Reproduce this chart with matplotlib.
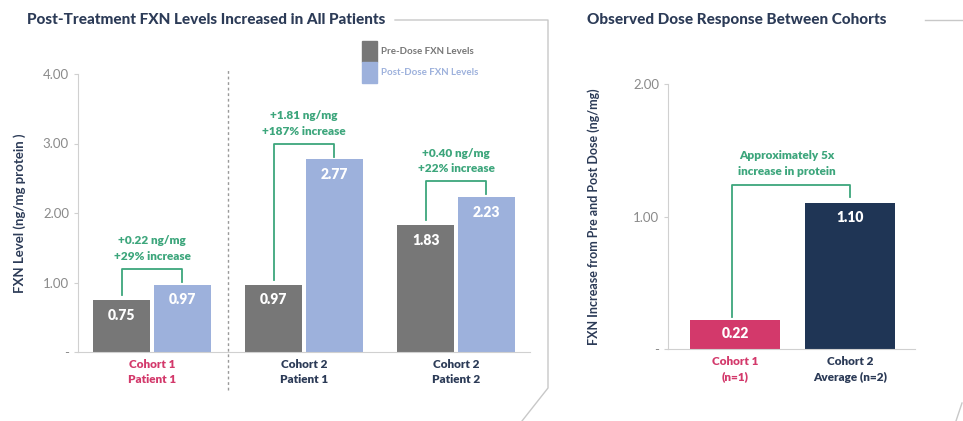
import numpy as np
import matplotlib.pyplot as plt
from matplotlib.lines import Line2D
from matplotlib.patches import Patch

plt.rcParams['font.family'] = ['Lato', 'DejaVu Sans']

# left panel data
groups = ['Cohort 1\nPatient 1', 'Cohort 2\nPatient 1', 'Cohort 2\nPatient 2']
pre_dose = [0.75, 0.97, 1.83]
post_dose = [0.97, 2.77, 2.23]
change_text = ['+0.22 ng/mg\n+29% increase', '+1.81 ng/mg\n+187% increase', '+0.40 ng/mg\n+22% increase']

# right panel data
cohorts = ['Cohort 1\n(n=1)', 'Cohort 2\nAverage (n=2)']
increase = [0.22, 1.10]

GREY = '#777777'
BLUE = '#9db1dc'
PINK = '#d3396b'
NAVY = '#1f3555'
GREEN = '#3da67c'
TITLE = '#2c3b57'
AXIS = '#d0d0d0'
TICK = '#8a8a8a'

W, H = 963, 421
fig = plt.figure(figsize=(W / 100, H / 100), dpi=100)


def px_axes(x0, x1, ytop, ybot):
    return fig.add_axes([x0 / W, (H - ybot) / H, (x1 - x0) / W, (ybot - ytop) / H])


def style(ax):
    for s in ['top', 'right']:
        ax.spines[s].set_visible(False)
    ax.spines['left'].set_color(AXIS)
    ax.spines['bottom'].set_color(AXIS)
    ax.tick_params(axis='y', colors=AXIS, labelcolor=TICK, labelsize=9.5, length=3)
    ax.tick_params(axis='x', length=0, pad=5)


# ---- left panel ----
ax = px_axes(78, 530, 74, 352)
style(ax)
x = np.arange(len(groups))
bw = 0.375
off = 0.2
b1 = ax.bar(x - off, pre_dose, bw, color=GREY)
b2 = ax.bar(x + off, post_dose, bw, color=BLUE)
ax.set_xlim(-0.487, 2.487)
ax.set_ylim(0, 4)
ax.set_yticks([0, 1, 2, 3, 4])
ax.set_yticklabels(['-', '1.00', '2.00', '3.00', '4.00'])
ax.set_xticks(x)
ax.set_xticklabels(groups, fontsize=8.5, fontweight='heavy', linespacing=1.5)
for i, lab in enumerate(ax.get_xticklabels()):
    lab.set_color(PINK if i == 0 else TITLE)
ax.set_ylabel('FXN Level (ng/mg protein )', fontsize=9.5, fontweight='bold', color=TITLE, labelpad=12)

for bars in (b1, b2):
    for r in bars:
        ax.annotate('%.2f' % r.get_height(), (r.get_x() + r.get_width() / 2, r.get_height()),
                    xytext=(0, -11), textcoords='offset points', ha='center', va='center',
                    color='white', fontsize=10, fontweight='heavy')

# brackets
for i in range(len(groups)):
    lo = pre_dose[i] + 0.07
    top = max(pre_dose[i], post_dose[i]) + 0.23
    ax.plot([i - off, i - off, i + off, i + off], [lo, top, top, post_dose[i] + 0.04],
            color=GREEN, lw=1.3)
    ax.text(i, top + 0.1, change_text[i], ha='center', va='bottom', color=GREEN,
            fontsize=8.5, fontweight='heavy', linespacing=1.5)

ax.axvline(0.5, ymin=-0.137, ymax=1.014, color='#999999', ls=(0, (2, 2)), lw=1, clip_on=False)

ax.legend([Patch(color=GREY), Patch(color=BLUE)], ['Pre-Dose FXN Levels', 'Post-Dose FXN Levels'],
          loc='upper left', bbox_to_anchor=(362 / W, 1 - 41 / H), bbox_transform=fig.transFigure,
          frameon=False, prop={'size': 7, 'weight': 'bold'}, handlelength=1.5, handleheight=2.9,
          labelspacing=0.05, handletextpad=0.5, borderaxespad=0, borderpad=0)
leg = ax.get_legend()
leg.get_texts()[0].set_color(GREY)
leg.get_texts()[1].set_color(BLUE)

fig.text(27 / W, 1 - 20 / H, 'Post-Treatment FXN Levels Increased in All Patients', ha='left', va='center',
         fontsize=11, fontweight='black', color=TITLE)

# ---- right panel ----
ax2 = px_axes(668, 915, 84, 349)
style(ax2)
x2 = np.arange(len(cohorts))
r = ax2.bar(x2, increase, 0.78, color=[PINK, NAVY])
ax2.set_xlim(-0.583, 1.565)
ax2.set_ylim(0, 2)
ax2.set_yticks([0, 1, 2])
ax2.set_yticklabels(['-', '1.00', '2.00'])
ax2.set_xticks(x2)
ax2.set_xticklabels(cohorts, fontsize=8.5, fontweight='heavy', linespacing=1.5)
ax2.get_xticklabels()[0].set_color(PINK)
ax2.get_xticklabels()[1].set_color(TITLE)
ax2.set_ylabel('FXN Increase from Pre and Post Dose (ng/mg)', fontsize=9, fontweight='bold',
               color=TITLE, labelpad=24)
for b in r:
    ax2.annotate('%.2f' % b.get_height(), (b.get_x() + b.get_width() / 2, b.get_height()),
                 xytext=(0, -10), textcoords='offset points', ha='center', va='center',
                 color='white', fontsize=10, fontweight='heavy')
ax2.plot([-0.03, -0.03, 1.0, 1.0], [increase[0] + 0.02, 1.24, 1.24, 1.15], color=GREEN, lw=1.3)
ax2.text(0.45, 1.3, 'Approximately 5x\nincrease in protein', ha='center', va='bottom', color=GREEN,
         fontsize=8.5, fontweight='heavy', linespacing=1.5)

fig.text(587 / W, 1 - 20 / H, 'Observed Dose Response Between Cohorts', ha='left', va='center',
         fontsize=11, fontweight='black', color=TITLE)

# decorative frame lines
def fline(xs, ys):
    fig.add_artist(Line2D([v / W for v in xs], [1 - v / H for v in ys], color='#c8c8c8', lw=1))

fline([395, 548, 548, 522], [20, 20, 388, 421])
fline([925, 963], [20, 20])
fline([962, 956], [403, 421])

fig.savefig('out.png', dpi=100, facecolor='white')
